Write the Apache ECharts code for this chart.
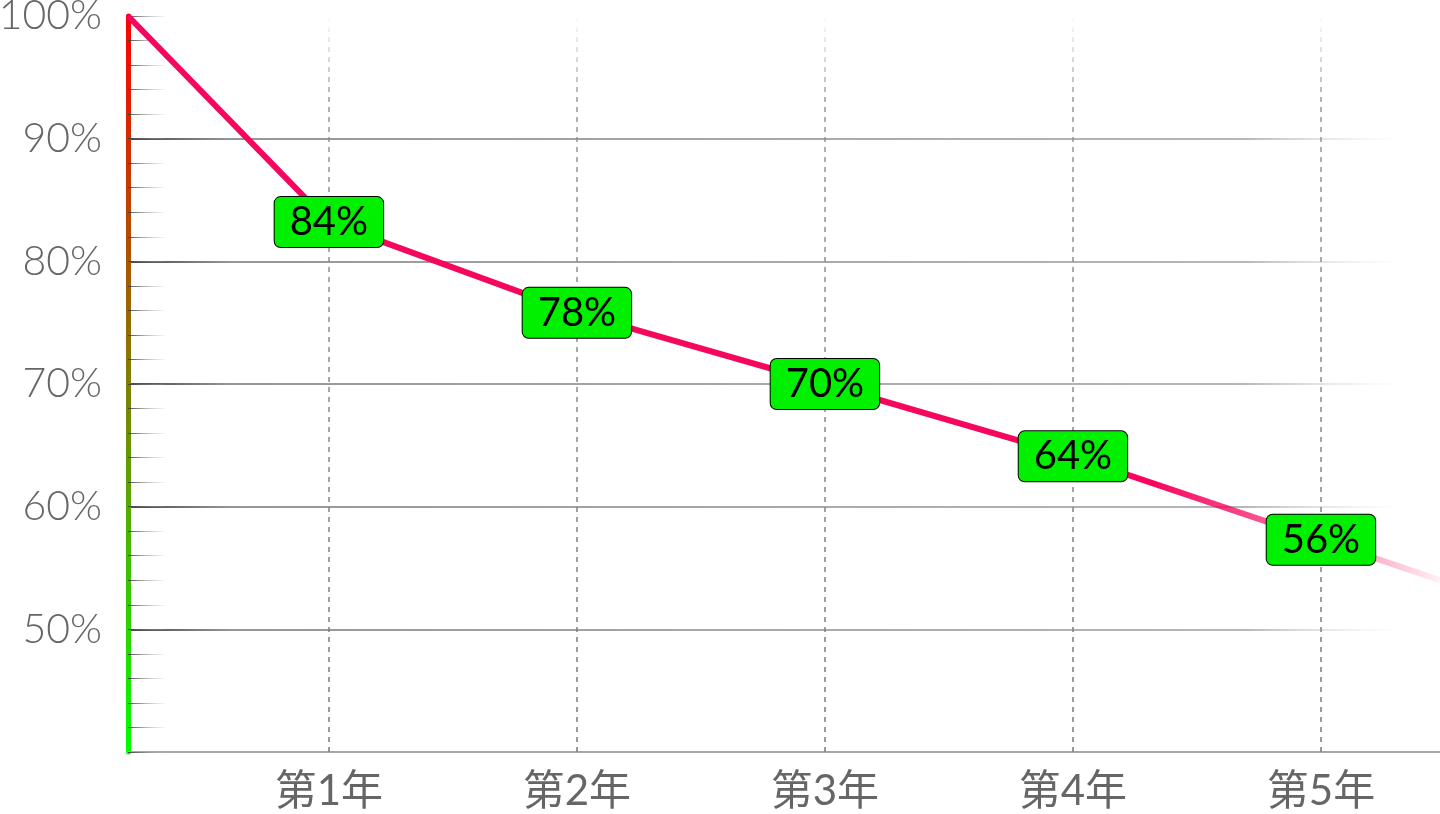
<!DOCTYPE html>
<html>
<head>
<meta charset="utf-8">
<script src="https://cdn.jsdelivr.net/npm/echarts@6/dist/echarts.min.js"></script>
<style>
html,body{margin:0;padding:0;background:#fff;}
#chart{width:1440px;height:814px;}
</style>
</head>
<body>
<div id="chart"></div>
<script>
// ---- data ----
const categories = ['第1年', '第2年', '第3年', '第4年', '第5年'];
const categoryX = [1, 2, 3, 4, 5];
const pointX = [0.19, 1, 2, 3, 4, 5, 5.48];
const pointY = [100, 83.2, 75.8, 70, 64.1, 57.3, 54.0];
const pointLabels = ['', '84%', '78%', '70%', '64%', '56%', ''];
const yTicks = [50, 60, 70, 80, 90, 100];

const G = echarts.graphic.LinearGradient;
const chart = echarts.init(document.getElementById('chart'));

const seriesData = pointX.map((x, i) => ({
  value: [x, pointY[i]],
  label: { show: pointLabels[i] !== '', formatter: pointLabels[i] }
}));

const option = {
  animation: false,
  grid: { left: 128, right: 0, top: 16, bottom: 62, containLabel: false, outerBoundsMode: 'none' },
  xAxis: {
    type: 'value',
    min: 0.19,
    max: 5.48,
    axisLine: { show: true, lineStyle: { color: '#a8a8a8', width: 2 } },
    axisTick: { show: false },
    splitLine: { show: false },
    axisLabel: {
      customValues: categoryX,
      formatter: v => categories[categoryX.indexOf(Math.round(v))] || '',
      color: '#666',
      fontSize: 42,
      fontFamily: 'Lato, "Noto Sans CJK SC", sans-serif',
      fontWeight: 'normal',
      margin: 18,
      showMinLabel: true,
      showMaxLabel: true,
      hideOverlap: false
    }
  },
  yAxis: {
    type: 'value',
    min: 40,
    max: 100,
    interval: 10,
    axisLine: {
      show: true,
      lineStyle: {
        width: 5,
        color: new G(0, 0, 0, 1, [
          { offset: 0, color: '#ff0000' },
          { offset: 1, color: '#00ff00' }
        ])
      }
    },
    axisTick: {
      show: true, inside: true, length: 37,
      lineStyle: {
        width: 1,
        color: new G(0, 0, 1, 0, [
          { offset: 0, color: 'rgba(50,50,50,1)' },
          { offset: 1, color: 'rgba(200,200,200,0.1)' }
        ])
      }
    },
    minorTick: {
      show: true, splitNumber: 5, length: 37,
      lineStyle: {
        width: 1,
        color: new G(0, 0, 1, 0, [
          { offset: 0, color: 'rgba(50,50,50,1)' },
          { offset: 1, color: 'rgba(200,200,200,0.1)' }
        ])
      }
    },
    splitLine: {
      show: true,
      showMinLine: false,
      showMaxLine: false,
      lineStyle: {
        width: 2,
        color: new G(0, 0, 1, 0, [
          { offset: 0, color: 'rgba(70,70,70,1)' },
          { offset: 0.08, color: 'rgba(150,150,150,1)' },
          { offset: 0.85, color: 'rgba(170,170,170,0.85)' },
          { offset: 0.97, color: 'rgba(220,220,220,0)' },
          { offset: 1, color: 'rgba(255,255,255,0)' }
        ])
      }
    },
    axisLabel: {
      formatter: v => (yTicks.indexOf(v) >= 0 ? v + '%' : ''),
      showMinLabel: false,
      color: '#666',
      fontSize: 41,
      fontFamily: 'Lato, sans-serif',
      fontWeight: 300,
      margin: 26
    }
  },
  series: [{
    type: 'line',
    data: seriesData,
    symbol: 'circle',
    symbolSize: 0,
    showSymbol: true,
    clip: false,
    z: 3,
    lineStyle: {
      width: 6,
      color: new G(0, 0, 1, 0, [
        { offset: 0, color: '#f5075f' },
        { offset: 0.78, color: '#f5075f' },
        { offset: 0.9, color: 'rgba(245,7,95,0.55)' },
        { offset: 1, color: 'rgba(245,7,95,0.05)' }
      ])
    },
    label: {
      show: true,
      position: 'inside',
      color: '#000',
      fontSize: 40,
      fontFamily: 'Lato, sans-serif',
      backgroundColor: '#00f000',
      borderColor: '#000',
      borderWidth: 1,
      borderRadius: 6,
      padding: [5, 15, 5, 15]
    },
    emphasis: { disabled: true },
    markLine: {
      silent: true,
      symbol: 'none',
      label: { show: false },
      z: 1,
      lineStyle: {
        type: [5, 5],
        width: 1.5,
        color: new G(0, 0, 0, 1, [
          { offset: 0, color: 'rgba(150,150,150,0)' },
          { offset: 0.12, color: 'rgba(140,140,140,0.9)' },
          { offset: 1, color: 'rgba(120,120,120,1)' }
        ])
      },
      data: categoryX.map(x => ({ xAxis: x }))
    }
  }]
};
chart.setOption(option);
</script>
</body>
</html>
